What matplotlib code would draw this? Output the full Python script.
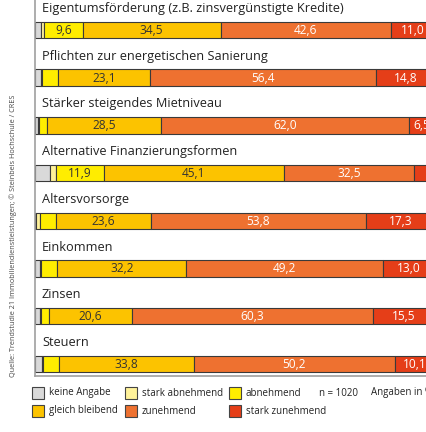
import matplotlib.pyplot as plt

plt.rcParams['font.family'] = ['Open Sans', 'DejaVu Sans']

categories = [
    "Eigentumsförderung (z.B. zinsvergünstigte Kredite)",
    "Pflichten zur energetischen Sanierung",
    "Stärker steigendes Mietniveau",
    "Alternative Finanzierungsformen",
    "Altersvorsorge",
    "Einkommen",
    "Zinsen",
    "Steuern",
]

series_names = ["keine Angabe", "stark abnehmend", "abnehmend",
                "gleich bleibend", "zunehmend", "stark zunehmend"]
colors = ["#d9d9d9", "#fff29a", "#ffed00", "#fcc300", "#ee7130", "#e53e18"]
text_colors = ["#333333", "#333333", "#333333", "#333333", "white", "white"]

keine_angabe    = [1.5, 1.5, 0.8, 3.7, 0.3, 1.2, 1.2, 1.7]
stark_abnehmend = [0.8, 0.2, 0.2, 1.6, 0.9, 0.2, 0.2, 0.2]
abnehmend       = [9.6, 4.0, 2.0, 11.9, 4.1, 4.2, 2.2, 4.0]
gleich_bleibend = [34.5, 23.1, 28.5, 45.1, 23.6, 32.2, 20.6, 33.8]
zunehmend       = [42.6, 56.4, 62.0, 32.5, 53.8, 49.2, 60.3, 50.2]
stark_zunehmend = [11.0, 14.8, 6.5, 5.2, 17.3, 13.0, 15.5, 10.1]

series = [keine_angabe, stark_abnehmend, abnehmend,
          gleich_bleibend, zunehmend, stark_zunehmend]

W, H = 427, 432
fig = plt.figure(figsize=(W / 100, H / 100), dpi=100)
# axes runs past the right edge on purpose (the reference is cropped)
ax = fig.add_axes([35 / W, (H - 376) / H, 400 / W, 376 / H])

row_px = 47.7
ax.set_xlim(0, 100)
ax.set_ylim(346 / row_px, -30 / row_px)

bar_h = 16.5 / row_px
for i in range(len(categories)):
    left = 0
    for s, vals in enumerate(series):
        v = vals[i]
        ax.barh(i, v, left=left, height=bar_h, color=colors[s],
                edgecolor="#3a3a3a", linewidth=0.8)
        if v >= 6:
            ax.text(left + v / 2, i + 0.01, f"{v:.1f}".replace(".", ","),
                    ha="center", va="center", fontsize=8.6,
                    color=text_colors[s], clip_on=False)
        left += v
    ax.text(1.75, i - 0.45, categories[i], ha="left", va="center",
            fontsize=9.2, color="#222222")

for sp in ["top", "right"]:
    ax.spines[sp].set_visible(False)
for sp in ["left", "bottom"]:
    ax.spines[sp].set_color("#a0a0a0")
    ax.spines[sp].set_linewidth(1.2)
ax.set_xticks([])
ax.set_yticks([])

# legend drawn by hand in figure pixels
legend_items = [
    (32, 387, 0), (125, 387, 1), (229, 387, 2),
    (32, 405, 3), (125, 405, 4), (229, 405, 5),
]
for x, y, s in legend_items:
    fig.patches.append(plt.Rectangle((x / W, 1 - (y + 12) / H), 12 / W, 12 / H,
                                     transform=fig.transFigure,
                                     facecolor=colors[s], edgecolor="#444444",
                                     linewidth=0.8))
    fig.text((x + 17) / W, 1 - (y + 6) / H, series_names[s],
             ha="left", va="center", fontsize=7.0, color="#222222")

fig.text(319 / W, 1 - 393 / H, "n = 1020", ha="left", va="center",
         fontsize=7.0, color="#222222")
fig.text(371 / W, 1 - 393 / H, "Angaben in %", ha="left", va="center",
         fontsize=7.0, color="#222222")

fig.text(13 / W, (H - 377) / H,
         "Quelle: Trendstudie 21 Immobiliendienstleistungen; © Steinbeis Hochschule / CRES",
         rotation=90, ha="center", va="bottom", fontsize=5.2, color="#444444")

fig.savefig("out.png", dpi=100)
